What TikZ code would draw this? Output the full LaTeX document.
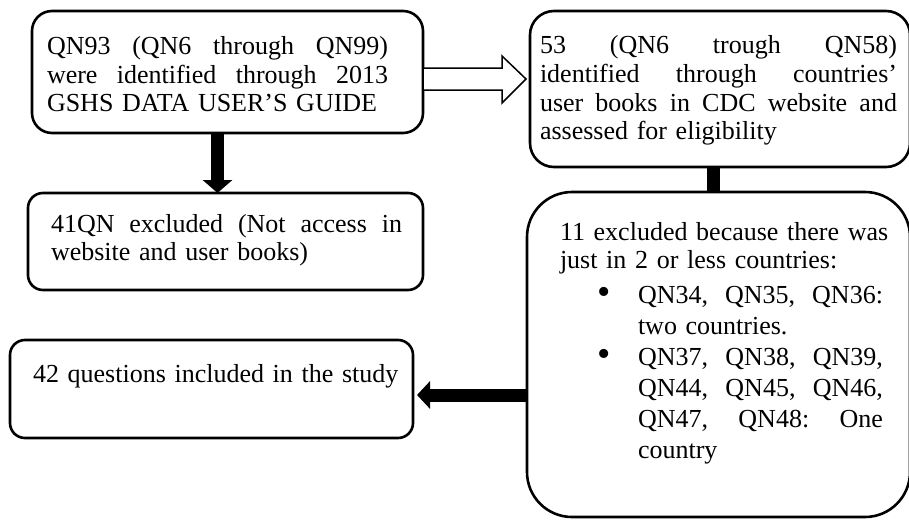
\documentclass[tikz,border=0pt]{standalone}
\usepackage{fontspec}
\setmainfont{Liberation Serif}
\usetikzlibrary{arrows.meta,calc}
\newcommand\jline[2]{\leavevmode\hbox to #1{\frenchspacing\spaceskip=0.25em plus 1fil\xspaceskip=\spaceskip\relax #2}}
\newcommand\bulitem{\leavevmode\hspace*{78pt}\llap{\raisebox{-1.5pt}{\fontsize{38}{38}\selectfont\textbullet}\hspace{27pt}}}
\newcommand\indentline{\leavevmode\hspace*{78pt}}
\begin{document}
\begin{tikzpicture}[x=1pt,y=-1pt,
  box/.style={draw=black, line width=2.6pt, fill=white, inner sep=0pt, outer sep=0pt, anchor=north west},
  txt/.style={anchor=base west, inner sep=0pt, outer sep=0pt, align=left, font=\fontsize{26}{28.5}\selectfont},
  hollow/.style={draw=black, line width=1.5pt, fill=white, line join=miter},
  blockarrow/.style={draw=black, line width=#1}
]
\useasboundingbox (0,0) rectangle (909,519);
\clip (0,0) rectangle (909,519);
\fill[white] (0,0) rectangle (909,519);

% boxes
\node[box, rounded corners=20pt, minimum width=391pt, minimum height=122pt] (A) at (32,11) {};
\node[box, rounded corners=15pt, minimum width=395pt, minimum height=97pt] (B) at (28,193) {};
\node[box, rounded corners=15pt, minimum width=403pt, minimum height=98pt] (D) at (10,340) {};
\node[box, rounded corners=24pt, minimum width=380pt, minimum height=156pt] (C) at (530,11) {};
\node[box, rounded corners=45pt, minimum width=383pt, minimum height=325pt] (E) at (527,192) {};

% texts
\node[txt, text width=380pt] (tA) at (47,55) {%
\jline{341pt}{QN93 (QN6 through QN99)}\\
\jline{341pt}{were identified through 2013}\\
GSHS DATA USER’S GUIDE};

\node[txt, text width=380pt] (tB) at (51,232) {%
\jline{351pt}{41QN excluded (Not access in}\\
website and user books)};

\node[txt, text width=420pt] (tD) at (33,382) {42 questions included in the study};

\node[txt, text width=400pt] (tC) at (540,54) {%
\jline{357pt}{53 (QN6 trough QN58)}\\
\jline{357pt}{identified through countries’}\\
\jline{357pt}{user books in CDC website and}\\
assessed for eligibility};

\node[txt, text width=360pt, font=\fontsize{26}{31}\selectfont] (tE) at (560,240) {%
11 excluded because there was\\[-3pt]
just in 2 or less countries:\\[4pt]
\bulitem\jline{245pt}{QN34, QN35, QN36:}\\
\indentline two countries.\\
\bulitem\jline{245pt}{QN37, QN38, QN39,}\\
\indentline\jline{245pt}{QN44, QN45, QN46,}\\
\indentline\jline{245pt}{QN47, QN48: One}\\
\indentline country};

% connectors
\draw[blockarrow=13pt, -{Triangle[width=29pt,length=13pt]}]
  ($(A.south)+(-10,0)$) -- ($(B.north)+(-8,0)$);
\draw[blockarrow=13pt]
  ($(C.south)+(-6.5,0)$) -- ($(E.north)+(-5,0)$);
\draw[blockarrow=13pt, -{Triangle[width=27pt,length=13pt]}]
  ($(E.west)+(0,40.5)$) -- ($(D.east)+(4,6)$);
\filldraw[hollow] ($(A.east)+(0,-4)$) -- ++(79,0) -- ++(0,-12) -- ++(24,23)
  -- ++(-24,24) -- ++(0,-13) -- ++(-79,0) -- cycle;
\end{tikzpicture}
\end{document}
